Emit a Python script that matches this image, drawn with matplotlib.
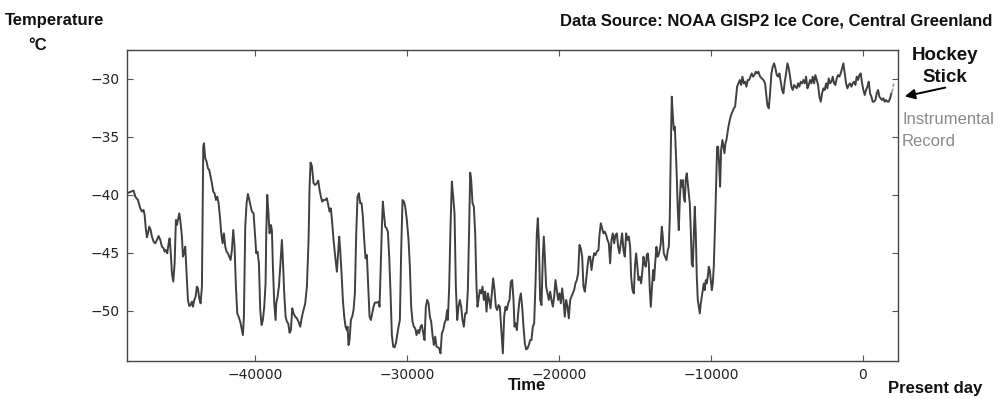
import matplotlib
matplotlib.use("Agg")
import matplotlib.pyplot as plt
import numpy as np

# ---- data (years relative to present / AD, temperature in deg C) ----
years_a = [-48423, -47985, -47875, -47700, -47546, -47436, -47327, -47261, -47173, -47108,
           -47042, -46954, -46866, -46779, -46669, -46559, -46450, -46340, -46230, -46121,
           -46011, -45945, -45858, -45770, -45682, -45616, -45551, -45463, -45375, -45287,
           -45200, -45134, -45068, -44980, -44915, -44805, -44739, -44673, -44586, -44498,
           -44410, -44322, -44235, -44147, -44081, -43993, -43906, -43818, -43752, -43665,
           -43577, -43489, -43401, -43358, -43270, -43182, -43094, -43007, -42919, -42831,
           -42743, -42656, -42568, -42480, -42393, -42305, -42217, -42129, -42042, -41954,
           -41866, -41779, -41691, -41603, -41515, -41428, -41340, -41252, -41165, -41077,
           -40967, -40857, -40792, -40726, -40638, -40550, -40463, -40375]
temps_a = [-39.87, -39.64, -40.16, -40.45, -41.17, -41.45, -41.31, -41.74, -43.04, -43.67,
           -43.33, -42.75, -43.04, -43.61, -44.05, -44.19, -43.90, -43.56, -43.90, -44.48,
           -44.62, -44.91, -44.77, -45.05, -44.19, -43.76, -44.77, -46.78, -47.50, -45.92,
           -42.17, -42.61, -42.17, -41.60, -42.17, -43.61, -45.34, -45.05, -44.48, -46.78,
           -49.08, -49.60, -49.52, -49.23, -49.66, -49.08, -48.80, -47.93, -48.08, -48.94,
           -49.37, -47.93, -35.84, -35.55, -36.85, -37.14, -37.71, -37.86, -38.43, -39.01,
           -39.73, -39.87, -40.45, -40.16, -40.73, -41.89, -43.33, -44.19, -43.33, -44.48,
           -44.91, -45.05, -45.34, -45.63, -44.77, -43.04, -44.48, -47.93, -50.24, -50.52,
           -50.96, -51.67, -52.11, -50.52, -42.75, -40.73, -39.93, -40.45]

years_b = [-40199, -40090, -40002, -39914, -39827, -39739, -39651, -39563, -39476, -39388,
           -39300, -39256, -39191, -39125, -39037, -38949, -38884, -38818, -38730, -38642,
           -38599, -38511, -38423, -38335, -38226, -38160, -38072, -37984, -37897, -37809,
           -37721, -37634, -37546, -37458, -37348, -37239, -37129, -37019, -36910, -36800,
           -36691, -36581, -36471, -36405, -36340, -36252, -36142, -36033, -35923, -35835,
           -35748, -35660, -35572, -35485, -35375, -35265, -35155, -35090, -35002, -34914,
           -34827, -34717, -34607, -34541, -34454, -34388, -34300, -34213, -34125, -34037,
           -33949, -33905, -33840, -33774, -33686, -33598, -33511, -33423, -33335, -33248,
           -33160, -33072, -32984, -32897, -32809, -32721, -32634, -32546, -32458, -32370,
           -32283, -32195, -32107]
temps_b = [-41.45, -41.60, -43.33, -45.05, -44.91, -45.92, -49.95, -51.24, -50.81, -49.66,
           -47.64, -43.33, -40.01, -41.31, -43.33, -42.61, -43.04, -46.21, -49.37, -50.81,
           -49.37, -48.80, -47.93, -46.21, -43.90, -45.63, -48.51, -50.52, -50.96, -51.10,
           -51.91, -51.68, -49.80, -50.24, -50.52, -50.67, -50.96, -51.39, -50.52, -49.95,
           -49.37, -47.93, -43.90, -39.30, -37.22, -37.51, -39.01, -39.15, -39.01, -38.78,
           -39.58, -40.16, -40.59, -40.45, -40.45, -40.30, -41.02, -41.45, -41.17, -42.46,
           -43.90, -45.34, -46.64, -45.34, -43.61, -44.77, -46.78, -49.08, -50.52, -51.39,
           -51.68, -51.39, -52.97, -52.54, -50.81, -50.52, -49.95, -48.51, -43.33, -40.16,
           -39.87, -40.73, -40.73, -41.89, -43.90, -45.49, -45.20, -47.93, -50.52, -50.81,
           -50.24, -49.66, -49.31]

years_c = [-31975, -31866, -31800, -31734, -31646, -31581, -31515, -31427, -31339, -31252,
           -31164, -31076, -30989, -30901, -30813, -30725, -30638, -30550, -30462, -30375,
           -30287, -30199, -30111, -30002, -29892, -29804, -29717, -29629, -29541, -29453,
           -29366, -29278, -29190, -29103, -29015, -28927, -28840, -28752, -28664, -28576,
           -28489, -28401, -28313, -28226, -28138, -28050, -27962, -27875, -27787, -27699,
           -27612, -27524, -27436, -27348, -27304, -27217, -27129, -27041, -26954, -26866,
           -26778, -26690, -26603, -26515, -26427, -26340, -26252, -26164, -26076, -25989,
           -25901, -25835, -25769, -25682, -25594, -25506, -25419, -25353, -25287, -25199,
           -25112, -25024, -24936, -24848, -24761, -24673, -24585, -24497, -24410, -24322,
           -24234, -24147, -24059, -23971, -23883]
temps_c = [-49.31, -49.23, -49.66, -46.78, -42.75, -40.59, -41.60, -42.75, -42.89, -43.18,
           -45.34, -48.51, -52.11, -53.11, -53.17, -52.83, -52.11, -51.39, -50.81, -44.77,
           -40.45, -40.59, -41.02, -42.17, -43.90, -46.21, -49.66, -50.96, -51.39, -51.53,
           -52.11, -51.68, -51.96, -51.39, -51.24, -51.96, -52.54, -49.66, -49.08, -49.37,
           -50.52, -50.96, -52.11, -52.97, -52.25, -53.11, -53.17, -53.26, -53.69, -51.96,
           -51.68, -51.10, -50.81, -49.95, -50.81, -47.93, -42.75, -38.86, -40.16, -41.60,
           -47.93, -50.81, -49.66, -49.08, -49.66, -50.81, -51.39, -50.24, -50.24, -48.22,
           -42.75, -38.09, -38.72, -40.73, -41.02, -43.33, -47.93, -49.66, -49.08, -48.22,
           -48.51, -47.93, -49.08, -48.36, -50.09, -48.51, -49.08, -49.80, -48.51, -47.21,
           -48.22, -49.66, -49.95, -49.52, -49.66]

years_d = [-23773, -23686, -23598, -23510, -23422, -23335, -23247, -23159, -23072, -22984,
           -22918, -22852, -22764, -22677, -22589, -22501, -22414, -22326, -22238, -22150,
           -22063, -21975, -21887, -21800, -21712, -21624, -21536, -21449, -21383, -21317,
           -21229, -21142, -21054, -20988, -20922, -20835, -20747, -20659, -20572, -20484,
           -20396, -20308, -20221, -20133, -20045, -19958, -19870, -19782, -19694, -19607,
           -19519, -19431, -19344, -19256, -19168, -19080, -18993, -18905, -18817, -18730,
           -18642, -18554, -18466, -18379, -18291, -18203, -18116, -18028, -17940, -17852,
           -17765, -17677, -17589, -17501, -17392, -17326, -17238, -17151, -17063, -16975,
           -16887, -16800, -16712, -16624, -16537, -16449, -16361, -16273, -16186, -16098,
           -16010, -15923, -15835, -15747, -15659, -15572, -15484, -15396]
temps_d = [-51.96, -53.69, -50.52, -49.66, -49.95, -49.37, -49.08, -47.50, -47.36, -49.08,
           -51.39, -51.10, -51.68, -50.24, -49.08, -48.51, -49.66, -51.39, -52.83, -53.35,
           -53.26, -52.97, -52.54, -52.54, -51.39, -51.10, -47.64, -43.33, -42.03, -43.90,
           -49.08, -49.52, -45.34, -43.61, -45.34, -47.93, -48.51, -49.08, -48.36, -49.08,
           -49.66, -48.80, -47.36, -48.22, -49.08, -48.51, -49.37, -48.08, -49.08, -50.52,
           -49.08, -49.66, -50.67, -49.08, -48.80, -48.51, -48.22, -47.64, -47.36, -46.78,
           -44.33, -44.62, -45.34, -47.93, -48.36, -47.36, -46.21, -45.34, -45.34, -46.49,
           -45.63, -45.05, -45.20, -44.91, -44.77, -43.47, -42.46, -42.89, -43.33, -43.18,
           -43.47, -43.90, -44.19, -45.92, -43.90, -43.33, -44.19, -43.47, -43.33, -44.48,
           -45.05, -44.19, -43.33, -44.77, -45.34, -43.33, -43.90, -43.61]

years_e = [-15308, -15242, -15155, -15067, -14979, -14913, -14848, -14760, -14672, -14584,
           -14497, -14431, -14365, -14277, -14212, -14146, -14080, -14014, -13948, -13883,
           -13795, -13729, -13663, -13576, -13510, -13444, -13356, -13291, -13225, -13159,
           -13093, -13005, -12918, -12830, -12764, -12698, -12633, -12567, -12501, -12435,
           -12369, -12304, -12238, -12172, -12106, -12041, -11975, -11909, -11843, -11777,
           -11712, -11646, -11580, -11514, -11449, -11383, -11317, -11251, -11185, -11120,
           -11054, -10988, -10922, -10857, -10791, -10725, -10659, -10593, -10528, -10462,
           -10396, -10330, -10264, -10199, -10133, -10067, -10001, -9935, -9869, -9804,
           -9716, -9650, -9584, -9519, -9453, -9387, -9321, -9234, -9168, -9102,
           -9036, -8970, -8905, -8839, -8751, -8663, -8576, -8488, -8400, -8334,
           -8269, -8181, -8093, -8006, -7918, -7830, -7742, -7655, -7567, -7479,
           -7391, -7304, -7216, -7128, -7041, -6953, -6865]
temps_e = [-44.49, -47.08, -48.23, -48.52, -45.93, -45.06, -45.93, -47.37, -47.08, -47.65,
           -46.50, -45.35, -45.93, -46.21, -45.21, -45.06, -45.93, -48.23, -49.67, -48.23,
           -46.50, -47.37, -45.93, -44.49, -45.35, -45.21, -44.77, -44.20, -42.76, -43.62,
           -45.06, -45.35, -45.64, -44.77, -44.49, -41.90, -36.14, -31.53, -33.11, -34.41,
           -34.12, -36.14, -38.44, -41.32, -43.05, -40.46, -38.73, -39.30, -38.73, -40.17,
           -40.60, -38.58, -38.15, -39.02, -39.88, -40.74, -43.05, -45.93, -46.21, -43.62,
           -41.03, -43.33, -47.08, -49.09, -49.67, -50.24, -49.38, -48.80, -48.23, -47.65,
           -48.23, -47.37, -47.65, -47.08, -46.21, -46.50, -47.37, -48.23, -47.65, -46.21,
           -42.47, -39.02, -35.85, -35.85, -37.29, -39.30, -36.14, -35.27, -35.85, -36.42,
           -35.56, -35.27, -34.70, -34.12, -33.55, -33.11, -32.83, -32.54, -32.39, -31.53,
           -30.67, -30.38, -30.09, -30.52, -29.80, -30.38, -30.24, -30.67, -30.09, -30.09,
           -29.80, -29.52, -29.80, -29.66, -29.37, -29.52, -29.37]

years_f = [-6756, -6646, -6537, -6427, -6361, -6274, -6186, -6098, -6010, -5923,
           -5835, -5747, -5660, -5572, -5484, -5396, -5309, -5221, -5133, -5045,
           -4958, -4870, -4782, -4695, -4607, -4519, -4431, -4344, -4256, -4168,
           -4081, -3993, -3905, -3817, -3730, -3642, -3554, -3467, -3379, -3291,
           -3203, -3116, -3028, -2940, -2853, -2765, -2677, -2589, -2502, -2414,
           -2326, -2238, -2151, -2063, -1975, -1888, -1800, -1712, -1624, -1537,
           -1449, -1361, -1274, -1186, -1098, -1010, -923, -835, -747, -660,
           -572, -484, -396, -309, -221, -133, -45, 42, 130, 218,
           305, 393, 481, 569, 656, 744, 832, 920, 1007, 1095,
           1183, 1270, 1358, 1446, 1534, 1621, 1709, 1797, 1885]
temps_f = [-29.80, -29.95, -30.09, -30.38, -31.24, -32.25, -32.54, -31.24, -29.52, -28.94,
           -28.65, -29.08, -29.66, -29.80, -29.52, -30.24, -30.95, -31.24, -30.24, -29.52,
           -28.65, -29.08, -29.80, -30.67, -30.95, -30.52, -30.67, -30.81, -30.38, -30.67,
           -30.24, -30.38, -30.09, -30.38, -29.80, -30.81, -30.52, -30.09, -30.38, -29.80,
           -30.38, -29.66, -30.09, -30.52, -31.53, -31.96, -31.24, -30.81, -30.95, -30.38,
           -30.81, -29.95, -30.38, -30.24, -29.80, -30.38, -30.52, -29.95, -29.66, -29.80,
           -29.52, -29.08, -28.65, -29.52, -30.38, -30.81, -30.52, -30.38, -30.67, -30.38,
           -30.24, -30.52, -29.80, -30.09, -29.66, -29.52, -30.38, -30.95, -31.39, -30.95,
           -30.67, -30.24, -31.24, -31.53, -31.96, -31.96, -31.82, -31.24, -30.95, -31.53,
           -31.67, -31.82, -31.67, -31.96, -31.82, -31.96, -31.96, -31.67, -31.24]

instr_years = [1885, 1960, 2040]
instr_temps = [-31.24, -30.95, -30.40]

xticks = [-40000, -30000, -20000, -10000, 0]
yticks = [-50, -45, -40, -35, -30]

segments = [(years_a, temps_a), (years_b, temps_b), (years_c, temps_c),
            (years_d, temps_d), (years_e, temps_e), (years_f, temps_f)]
for ys, ts in segments:
    assert len(ys) == len(ts), (len(ys), len(ts))
years = np.concatenate([np.array(s[0], float) for s in segments])
temps = np.concatenate([np.array(s[1], float) for s in segments])

# ---- figure ----
W, H = 1002, 399
fig = plt.figure(figsize=(W / 100, H / 100), dpi=100)
fig.patch.set_facecolor("white")
ax = fig.add_axes([127 / W, 1 - 361 / H, (898 - 127) / W, (361 - 50) / H])

ax.plot(years, temps, color="#404040", lw=1.4, solid_joinstyle="round")
ax.plot(instr_years, instr_temps, color="#9a9a9a", lw=1.2, ls=(0, (3, 1)))

ax.set_xlim(-48420, 2320)
ax.set_ylim(-54.35, -27.5)
ax.set_xticks(xticks)
ax.set_yticks(yticks)
ax.tick_params(direction="in", top=True, right=True, length=4, width=0.8,
               color="#555555", labelsize=10, labelcolor="#222222", pad=5)
for sp in ax.spines.values():
    sp.set_color("#444444")
    sp.set_linewidth(1.0)

bold = dict(family="Liberation Sans", fontweight="bold", color="#111111")
fig.text(5 / W, 1 - 20 / H, "Temperature", ha="left", va="center", fontsize=12, **bold)
fig.text(28 / W, 1 - 45 / H, "\u00b0C", ha="left", va="center", fontsize=12, **bold)
fig.text(992 / W, 1 - 21 / H, "Data Source: NOAA GISP2 Ice Core, Central Greenland",
         ha="right", va="center", fontsize=12, **bold)
fig.text(945 / W, 1 - 56 / H, "Hockey", ha="center", va="center", fontsize=13.5, **bold)
fig.text(945 / W, 1 - 78 / H, "Stick", ha="center", va="center", fontsize=13.5, **bold)
fig.text(902 / W, 1 - 119 / H, "Instrumental", ha="left", va="center", fontsize=12,
         family="Liberation Sans", color="#8a8a8a")
fig.text(902 / W, 1 - 142 / H, "Record", ha="left", va="center", fontsize=12,
         family="Liberation Sans", color="#8a8a8a")
fig.text(527 / W, 1 - 386 / H, "Time", ha="center", va="center", fontsize=12, **bold)
fig.text(935 / W, 1 - 388 / H, "Present day", ha="center", va="center", fontsize=12, **bold)

fig.patches.append(matplotlib.patches.FancyArrowPatch(
    (948 / W, 1 - 87 / H), (902 / W, 1 - 97 / H), transform=fig.transFigure,
    arrowstyle="-|>,head_length=6,head_width=3", color="black", lw=1.4))

fig.savefig("out.png", dpi=100, facecolor="white")
